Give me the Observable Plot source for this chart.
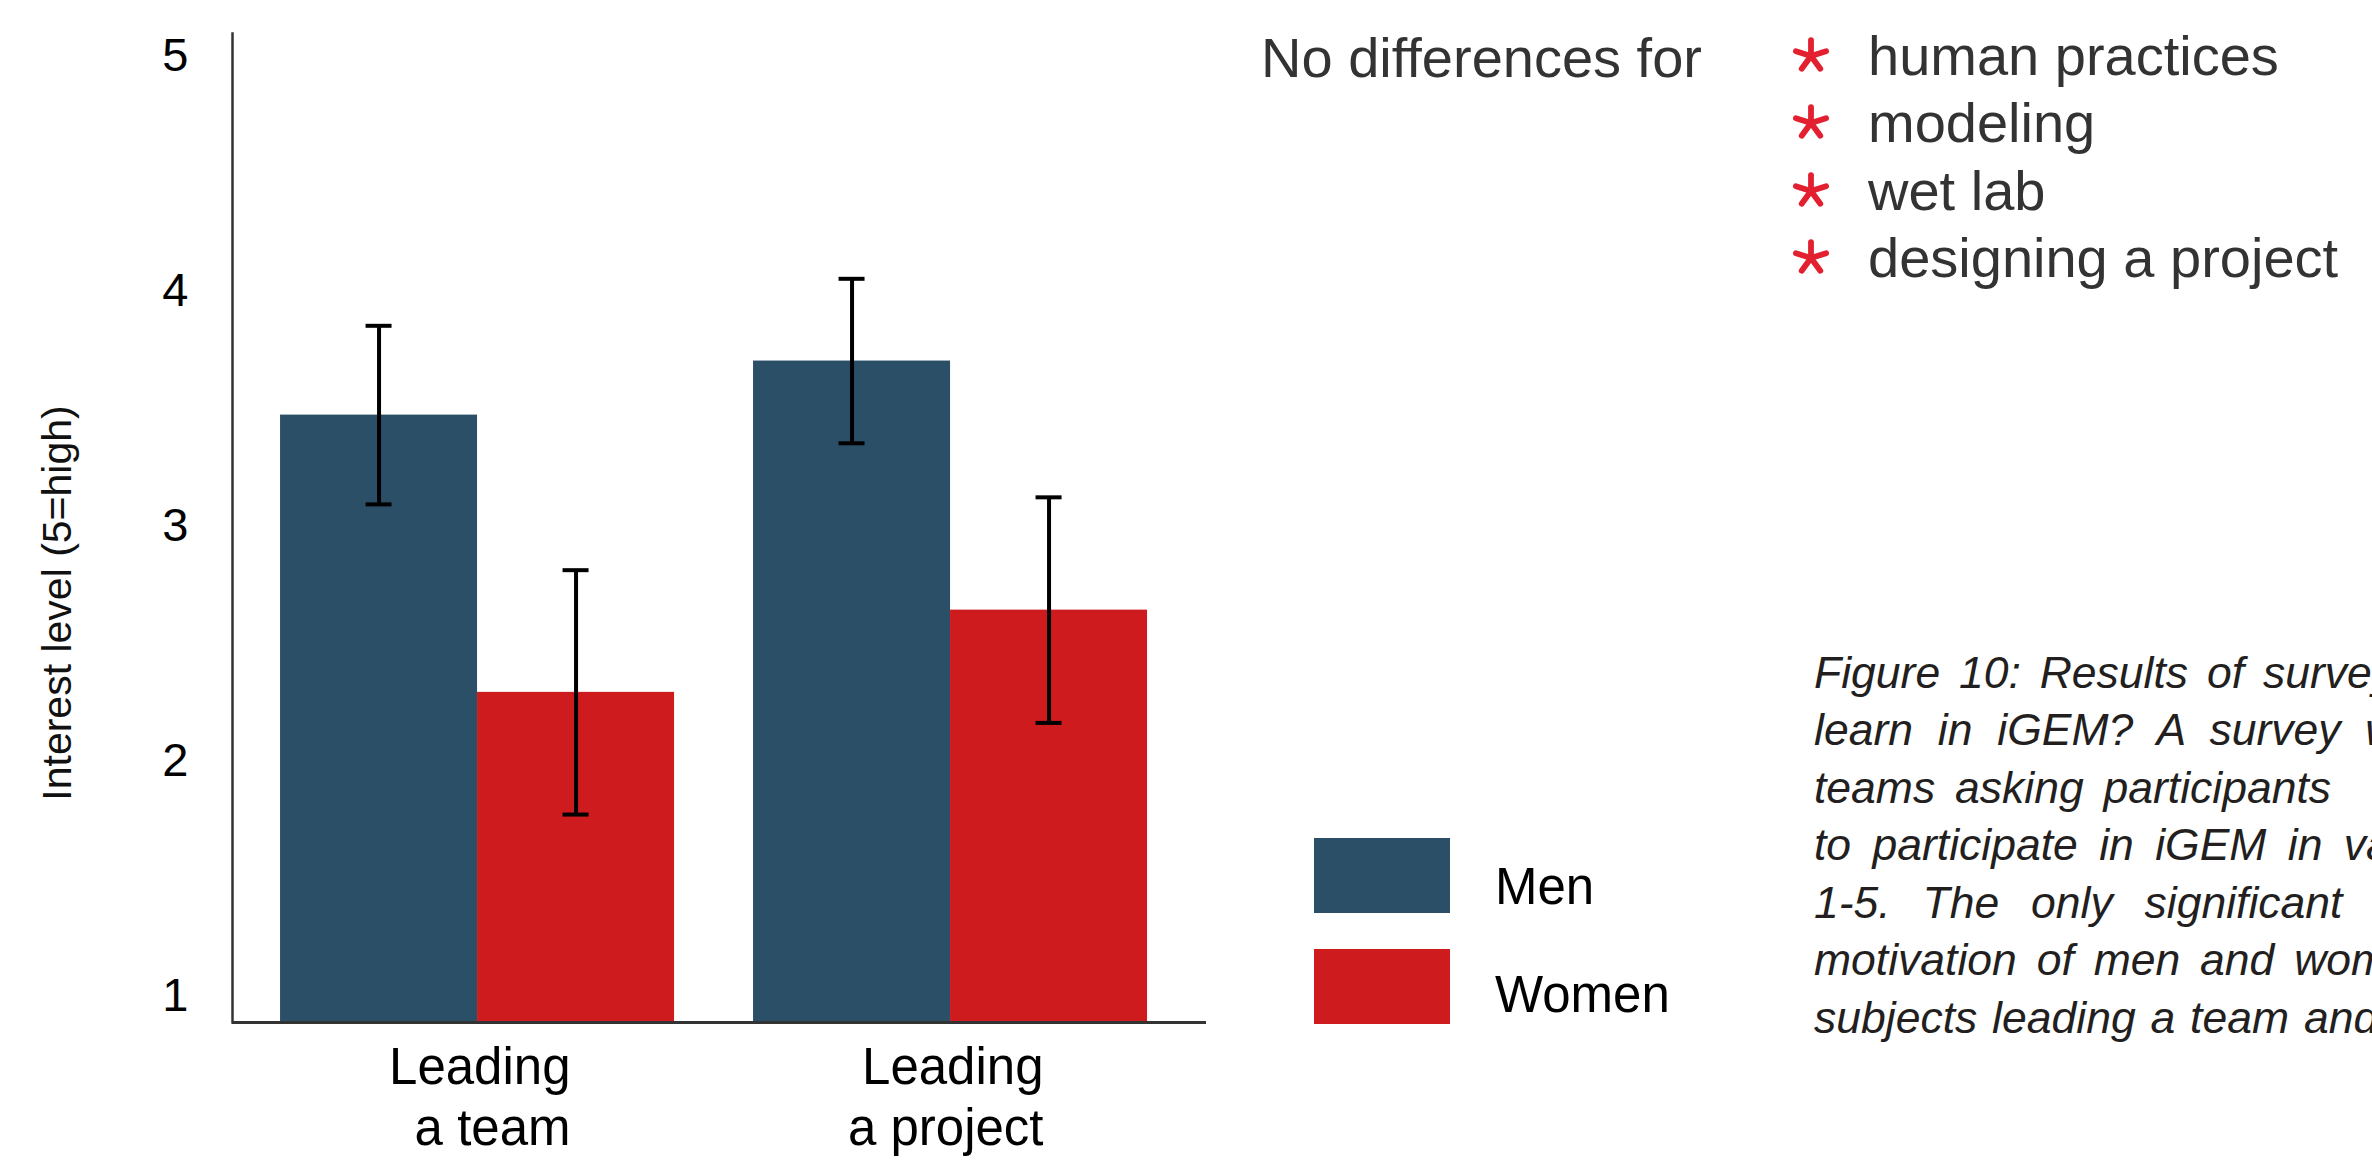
<!DOCTYPE html>
<html>
<head>
<meta charset="utf-8">
<script src="https://cdn.jsdelivr.net/npm/d3@7"></script>
<script src="https://cdn.jsdelivr.net/npm/@observablehq/plot@0.6"></script>
<style>
  html, body { margin: 0; padding: 0; background: #fff; }
  body {
    width: 2372px; height: 1161px; position: relative; overflow: hidden;
    font-family: "Liberation Sans", Arial, Helvetica, sans-serif;
  }
  #chart { position: absolute; left: 0; top: 0; }
  #y-label {
    position: absolute; left: 57px; top: 603px;
    transform: translate(-50%, -50%) rotate(-90deg);
    font-size: 41px; line-height: 41px; color: #111; white-space: nowrap;
  }
  .swatch { position: absolute; width: 136px; height: 75px; }
  .legend-label { position: absolute; font-size: 51px; line-height: 51px; color: #000; white-space: nowrap; }
  #note-head {
    position: absolute; left: 1261px; top: 29.6px;
    font-size: 56px; line-height: 56px; color: #333; white-space: nowrap;
  }
  #note-list { position: absolute; left: 1868px; top: 21.9px; font-size: 56px; line-height: 67.5px; color: #333; }
  #note-list .item { position: relative; white-space: nowrap; }
  #note-list svg { position: absolute; left: -76px; top: 15px; width: 38px; height: 38px; overflow: visible; }
  #caption {
    position: absolute; left: 1814px; top: 643.5px;
    font-size: 44.5px; line-height: 57.5px; font-style: italic; color: #231f20;
  }
  #caption div { white-space: nowrap; }
</style>
</head>
<body>
<div id="chart"></div>
<div id="y-label"></div>
<div id="legend"></div>
<div id="note-head"></div>
<div id="note-list"></div>
<div id="caption"></div>
<script>
// Survey results: mean interest (1-5) with error bars, by activity and gender
const activities = ["Leading\na team", "Leading\na project"];
const genders = ["Men", "Women"];
const menMean = [3.47, 3.70];
const womenMean = [2.29, 2.64];
const menError = [0.38, 0.35];
const womenError = [0.52, 0.48];
const yTicks = [1, 2, 3, 4, 5];
const yLabel = "Interest level (5=high)";
const genderColors = ["#2c4f68", "#cd1b1e"];

const noteHeading = "No differences for";
const noteSubjects = ["human practices", "modeling", "wet lab", "designing a project"];

const captionLines = [
  "Figure 10: Results of survey",
  "learn in iGEM? A survey was",
  "teams asking participants",
  "to participate in iGEM in various",
  "1-5. The only significant",
  "motivation of men and women",
  "subjects leading a team and"
];
const captionWordSpacing = [6.5, 12.5, 7.5, 9, 19.5, 7.5, 2.5];

// Tidy rows for the marks
const means = {Men: menMean, Women: womenMean};
const errors = {Men: menError, Women: womenError};
const rows = genders.flatMap(g => activities.map((a, i) => ({
  activity: a, gender: g, mean: means[g][i], err: errors[g][i]
})));

// Layout
const width = 1215, height = 1161;
const marginLeft = 232, marginRight = 9, marginTop = 33, marginBottom = 139;
const yDomain = [0.885, 5.094];
const xPadInner = 0.167, xPadOuter = 0.1131, xAlign = 0.449;

// Same band geometry as the Plot x scale, to split each band into two bars
const band = d3.scaleBand()
  .domain(activities)
  .range([marginLeft, width - marginRight])
  .paddingInner(xPadInner).paddingOuter(xPadOuter).align(xAlign);
const bw = band.bandwidth();
const capHalf = 13;

const barMarks = genders.map((g, k) => Plot.barY(rows.filter(d => d.gender === g), {
  x: "activity",
  y1: () => yDomain[0],
  y2: "mean",
  fill: genderColors[k],
  insetLeft: k === 0 ? 0 : bw / 2,
  insetRight: k === 0 ? bw / 2 : 0
}));

const errorMarks = genders.flatMap((g, k) => {
  const data = rows.filter(d => d.gender === g);
  const center = k === 0 ? bw / 4 : 3 * bw / 4;
  const insets = {insetLeft: center - capHalf, insetRight: bw - center - capHalf};
  return [
    Plot.ruleX(data, {
      x: "activity", y1: d => d.mean - d.err, y2: d => d.mean + d.err,
      dx: center - bw / 2, stroke: "#000", strokeWidth: 4
    }),
    Plot.tickY(data, {x: "activity", y: d => d.mean - d.err, stroke: "#000", strokeWidth: 4, ...insets}),
    Plot.tickY(data, {x: "activity", y: d => d.mean + d.err, stroke: "#000", strokeWidth: 4, ...insets})
  ];
});

const chart = Plot.plot({
  width, height, marginLeft, marginRight, marginTop, marginBottom,
  style: {fontFamily: "'Liberation Sans', Arial, Helvetica, sans-serif", color: "#000", background: "transparent"},
  x: {domain: activities, paddingInner: xPadInner, paddingOuter: xPadOuter, align: xAlign, round: false, axis: null},
  y: {domain: yDomain},
  marks: [
    ...barMarks,
    ...errorMarks,
    Plot.frame({anchor: "left", stroke: "#333", strokeWidth: 2.5}),
    Plot.ruleY([yDomain[0]], {stroke: "#333", strokeWidth: 3}),
    Plot.axisY({ticks: yTicks, tickFormat: d => String(d), tickSize: 0, tickPadding: 44, fontSize: 47, label: null, fill: "#000"}),
    Plot.text(activities, {
      x: d => d, frameAnchor: "bottom", lineAnchor: "top", textAnchor: "end",
      dx: 93, dy: 18, fontSize: 51, lineHeight: 1.2, fill: "#000"
    })
  ]
});
document.getElementById("chart").appendChild(chart);
document.getElementById("y-label").textContent = yLabel;

// Legend
const legend = document.getElementById("legend");
const legendTop = [838, 949];
const legendLabelTop = [860.8, 968.8];
genders.forEach((g, k) => {
  const sw = document.createElement("div");
  sw.className = "swatch";
  sw.style.left = "1314px";
  sw.style.top = legendTop[k] + "px";
  sw.style.background = genderColors[k];
  legend.appendChild(sw);
  const lab = document.createElement("div");
  lab.className = "legend-label";
  lab.style.left = "1495px";
  lab.style.top = legendLabelTop[k] + "px";
  lab.textContent = g;
  legend.appendChild(lab);
});

// Note listing the subjects without gender differences
document.getElementById("note-head").textContent = noteHeading;
const starSvg = `<svg viewBox="-18 -18 36 36"><g stroke="#e3202f" stroke-width="5.5" stroke-linecap="round">
  <line x1="0" y1="0" x2="0" y2="-15"/><line x1="0" y1="0" x2="14.3" y2="-4.6"/>
  <line x1="0" y1="0" x2="8.8" y2="12.1"/><line x1="0" y1="0" x2="-8.8" y2="12.1"/>
  <line x1="0" y1="0" x2="-14.3" y2="-4.6"/></g></svg>`;
const list = document.getElementById("note-list");
noteSubjects.forEach(s => {
  const item = document.createElement("div");
  item.className = "item";
  item.innerHTML = starSvg;
  item.appendChild(document.createTextNode(s));
  list.appendChild(item);
});

// Caption
const caption = document.getElementById("caption");
captionLines.forEach((t, i) => {
  const line = document.createElement("div");
  line.textContent = t;
  line.style.wordSpacing = captionWordSpacing[i] + "px";
  caption.appendChild(line);
});
</script>
</body>
</html>
